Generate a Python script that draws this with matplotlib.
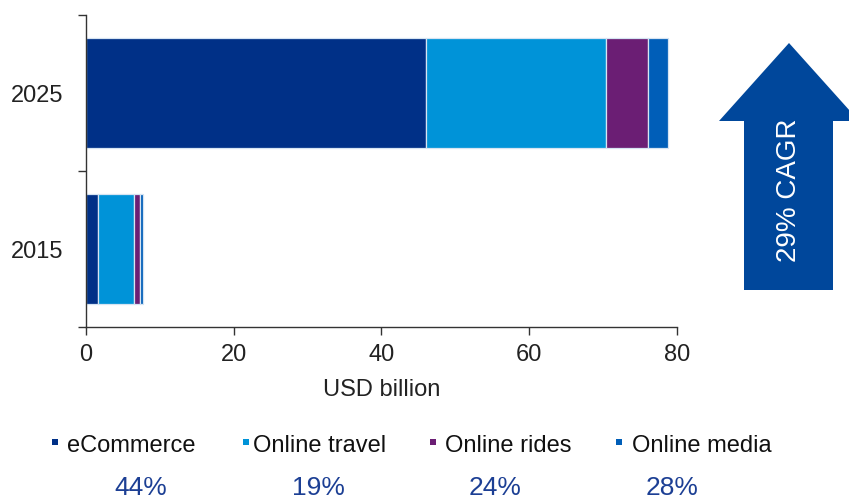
import matplotlib
matplotlib.use("Agg")
import matplotlib.pyplot as plt
from matplotlib.patches import Polygon, Rectangle
import numpy as np

plt.rcParams["font.family"] = ["Liberation Sans", "DejaVu Sans"]

# Market size by segment, USD billion
years = ["2015", "2025"]
segments = ["eCommerce", "Online travel", "Online rides", "Online media"]
ecommerce = [1.6, 46.0]
online_travel = [4.95, 24.4]
online_rides = [0.8, 5.7]
online_media = [0.35, 2.6]
cagr_by_segment = ["44%", "19%", "24%", "28%"]
total_cagr = "29% CAGR"
x_ticks = [0, 20, 40, 60, 80]

colors = ["#003087", "#0093d8", "#6b1e74", "#005eb8"]
arrow_color = "#00479b"
pct_color = "#1c3f94"

W, H = 849, 501
fig = plt.figure(figsize=(W / 100, H / 100), dpi=100)
ax = fig.add_axes([85.7 / W, 1 - 327 / H, (677.3 - 85.7) / W, (327 - 15) / H])

series = [ecommerce, online_travel, online_rides, online_media]
ypos = np.arange(len(years))
left = np.zeros(len(years))
for vals, col, name in zip(series, colors, segments):
    ax.barh(ypos, vals, left=left, height=0.71, color=col,
            edgecolor="#d6e4f2", linewidth=0.9, label=name)
    left += np.array(vals)

ax.set_xlim(0, 80)
ax.set_ylim(-0.5, 1.5)
ax.set_xticks(x_ticks)
ax.set_xticklabels([str(t) for t in x_ticks])
ax.set_yticks(ypos)
ax.set_yticklabels(years)
ax.set_yticks([-0.5, 0.5, 1.5], minor=True)

for s in ["top", "right"]:
    ax.spines[s].set_visible(False)
for s in ["left", "bottom"]:
    ax.spines[s].set_color("#333333")
    ax.spines[s].set_linewidth(1.0)

ax.tick_params(axis="x", direction="out", length=5.5, width=1.0,
               color="#333333", labelsize=17, labelcolor="#222222", pad=7)
ax.tick_params(axis="y", which="major", length=0, labelsize=17,
               labelcolor="#222222", pad=16)
ax.tick_params(axis="y", which="minor", direction="out", length=5.5,
               width=1.0, color="#333333")
ax.yaxis.get_minor_ticks()[1].tick1line.set_color("#9a9a9a")

ax.set_xlabel("USD billion", fontsize=17, color="#222222", labelpad=9)

# CAGR arrow on the right
def fx(px):
    return px / W

def fy(py):
    return 1 - py / H

arrow_pts = [(744, 290), (833, 290), (833, 121), (859, 121),
             (789, 43), (719, 121), (744, 121)]
fig.patches.append(Polygon([(fx(x), fy(y)) for x, y in arrow_pts],
                           closed=True, facecolor=arrow_color,
                           edgecolor="none", transform=fig.transFigure))
fig.text(fx(789), fy(190), total_cagr, rotation=90, color="white",
         fontsize=20, ha="center", va="center")

# Legend row with per-segment growth rates underneath
square_x = [52, 243, 430, 616]
label_x = [67, 253, 445, 632]
pct_x = [141, 318, 495, 672]
for sx, lx, px, name, col, pct in zip(square_x, label_x, pct_x,
                                       segments, colors, cagr_by_segment):
    fig.patches.append(Rectangle((fx(sx), fy(445)), 6 / W, 6 / H,
                                 facecolor=col, edgecolor="none",
                                 transform=fig.transFigure))
    fig.text(fx(lx), fy(446), name, fontsize=17, color="#111111",
             ha="left", va="center")
    fig.text(fx(px), fy(488), pct, fontsize=19, color=pct_color,
             ha="center", va="center")

fig.savefig("out.png", dpi=100)
